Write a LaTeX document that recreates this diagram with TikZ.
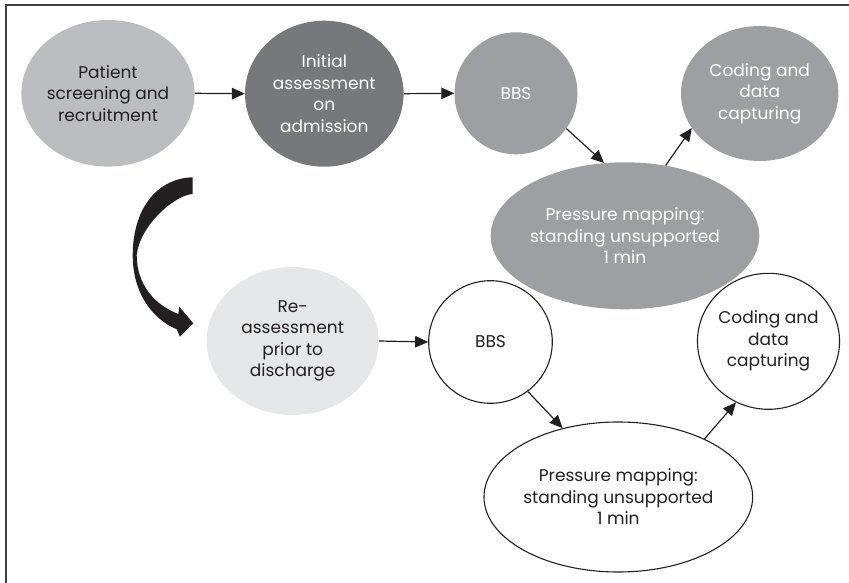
\documentclass[tikz,border=0pt]{standalone}
\usepackage{fontspec}
\setmainfont{Poppins}
\usetikzlibrary{shapes.geometric,arrows.meta}

\definecolor{inkdark}{HTML}{231F20}
\definecolor{framegray}{HTML}{404041}
\definecolor{fillpale}{HTML}{BCBDC0}
\definecolor{filldark}{HTML}{77787B}
\definecolor{fillmid}{HTML}{9D9FA2}
\definecolor{fillfaint}{HTML}{E6E7E8}

\tikzset{
  bubble/.style={ellipse, inner sep=0pt, align=center,
    font=\fontsize{17}{21.5}\selectfont},
  lighttext/.style={text=white},
  darktext/.style={text=inkdark},
  outlined/.style={draw=inkdark, line width=1.1pt, fill=white},
  flow/.style={draw=inkdark, line width=1.2pt,
    -{Triangle[length=13pt,width=11.5pt]}},
  frameline/.style={draw=framegray, line width=1.5pt}
}

\begin{document}
\begin{tikzpicture}[x=1pt,y=-1pt]
\useasboundingbox (0,0) rectangle (849,583);

% outer frame (only the top and left edges fall inside the page)
\draw[frameline] (6,590) -- (6,5) -- (860,5);

% --- admission row ---
\node[bubble, fill=fillpale, darktext, minimum width=172.6pt, minimum height=146.6pt]
  (pat) at (108,93.3) {Patient\\screening and\\recruitment};
\node[bubble, fill=filldark, lighttext, minimum width=158.6pt, minimum height=146pt]
  (ini) at (324.3,93.7) {Initial\\assessment\\on\\admission};
\node[bubble, fill=fillmid, lighttext, minimum width=123pt, minimum height=122pt]
  (bbsA) at (516,93.3) {BBS};
\node[bubble, fill=fillmid, lighttext, minimum width=157.4pt, minimum height=135pt]
  (codA) at (759.7,93.5) {Coding and\\data\\capturing};
\node[bubble, fill=fillmid, lighttext, minimum width=247.4pt, minimum height=147pt]
  (pmA) at (625,235.8) {Pressure mapping:\\standing unsupported\\1 min};

% --- discharge row ---
\node[bubble, fill=fillfaint, darktext, minimum width=172pt, minimum height=148pt]
  (re) at (292.7,341) {Re-\\assessment\\prior to\\discharge};
\node[bubble, outlined, darktext, minimum width=123.6pt, minimum height=122.6pt]
  (bbsB) at (490.5,342) {BBS};
\node[bubble, outlined, darktext, minimum width=140.4pt, minimum height=136pt]
  (codB) at (768.5,341.3) {Coding and\\data\\capturing};
\node[bubble, outlined, darktext, minimum width=247.4pt, minimum height=150pt]
  (pmB) at (618.3,497) {Pressure mapping:\\standing unsupported\\1 min};

% connectors
\draw[flow] (pat.east) -- (ini.west);
\draw[flow] (ini.east) -- (bbsA.west);
\draw[flow] (bbsA.-35) -- (pmA.106);
\draw[flow] (pmA.60) -- (codA.-153);
\draw[flow] (re.east) -- (bbsB.west);
\draw[flow] (bbsB.-53) -- (pmB.129);
\draw[flow] (pmB.34) -- (codB.-118);

% bold curved arrow leading from admission to discharge
\fill[inkdark] (192.7,177.3)
  .. controls (160,178) and (133,205) .. (132.7,255)
  .. controls (132.5,290) and (150,318) .. (176.7,329.3)
  -- (180,336.7) -- (193.3,323.3) -- (179.3,306.7) -- (178.3,314)
  .. controls (155,305) and (136.7,285) .. (136.7,255)
  .. controls (140,225) and (175,195) .. (192.7,194) -- cycle;
\end{tikzpicture}
\end{document}
